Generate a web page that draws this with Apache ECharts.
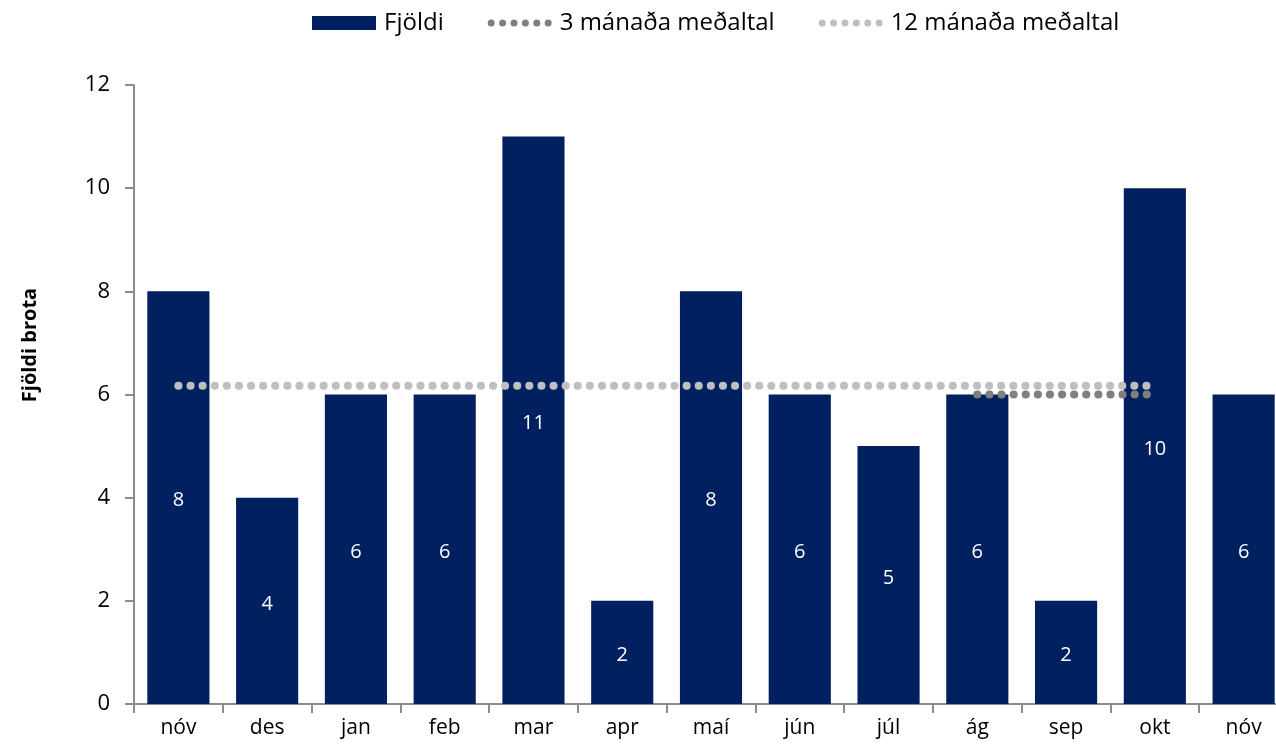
<!DOCTYPE html>
<html>
<head>
<meta charset="utf-8">
<title>Fjöldi brota</title>
<script src="https://cdn.jsdelivr.net/npm/echarts@6/dist/echarts.min.js"></script>
<style>
  html, body { margin: 0; padding: 0; background: #fff; }
  #chart { width: 1276px; height: 752px; }
</style>
</head>
<body>
<div id="chart"></div>
<script>
// mánuðir
var months = ['nóv', 'des', 'jan', 'feb', 'mar', 'apr', 'maí', 'jún', 'júl', 'ág', 'sep', 'okt', 'nóv'];
// fjöldi brota á mánuði
var counts = [8, 4, 6, 6, 11, 2, 8, 6, 5, 6, 2, 10, 6];
// meðaltöl (lárétt lína)
var avg3 = [null, null, null, null, null, null, null, null, null, 6, 6, 6, null];
var avg12 = [6.17, 6.17, 6.17, 6.17, 6.17, 6.17, 6.17, 6.17, 6.17, 6.17, 6.17, 6.17, null];
var yTicks = [0, 2, 4, 6, 8, 10, 12];

var font = '"Open Sans", sans-serif';
var axisGray = '#8c8c8c';

var myChart = echarts.init(document.getElementById('chart'));

var dotLine = function (color) {
  return {
    color: color,
    width: 8,
    type: [0.1, 12],
    cap: 'round'
  };
};

// punktalína fyrir skýringar
var dotsIcon = (function () {
  var p = '';
  for (var i = 0; i < 6; i++) {
    var x = i * 11.4;
    p += 'M' + x + ',3.5 a3.5,3.5 0 1,0 7,0 a3.5,3.5 0 1,0 -7,0 ';
  }
  return 'path://' + p;
})();

var option = {
  animation: false,
  textStyle: { fontFamily: font },
  grid: {
    left: 134,
    top: 85,
    width: 1154,
    bottom: 48,
    outerBoundsMode: 'none',
    containLabel: false
  },
  legend: {
    left: 307,
    top: 6,
    itemWidth: 64,
    itemHeight: 14,
    itemGap: 44,
    textStyle: { fontFamily: font, fontSize: 24, color: '#000', padding: [0, 0, 0, 3] },
    data: [
      { name: 'Fjöldi', icon: 'rect' },
      { name: '3 mánaða meðaltal', icon: dotsIcon },
      { name: '12 mánaða meðaltal', icon: dotsIcon }
    ]
  },
  graphic: [{
    type: 'text',
    x: 30,
    y: 345,
    rotation: Math.PI / 2,
    style: {
      text: 'Fjöldi brota',
      font: 'bold 20px "Open Sans", sans-serif',
      fill: '#000',
      align: 'center',
      verticalAlign: 'middle'
    }
  }],
  xAxis: {
    type: 'category',
    data: months,
    boundaryGap: true,
    axisLine: { lineStyle: { color: axisGray, width: 2 } },
    axisTick: { show: true, length: 9, lineStyle: { color: axisGray, width: 2 } },
    axisLabel: { fontFamily: font, fontSize: 21, color: '#000', margin: 14 }
  },
  yAxis: {
    type: 'value',
    min: yTicks[0],
    max: yTicks[yTicks.length - 1],
    interval: 2,
    axisLine: { show: true, lineStyle: { color: axisGray, width: 2 } },
    axisTick: { show: true, length: 9, inside: false, lineStyle: { color: axisGray, width: 2 } },
    splitLine: { show: false },
    axisLabel: { fontFamily: font, fontSize: 22, color: '#000', margin: 24 }
  },
  series: [
    {
      name: 'Fjöldi',
      type: 'bar',
      data: counts,
      barCategoryGap: '30%',
      itemStyle: { color: '#002060' },
      label: {
        show: true,
        position: 'inside',
        offset: [0, 3],
        color: '#fff',
        fontFamily: font,
        fontSize: 20
      }
    },
    {
      name: '3 mánaða meðaltal',
      type: 'line',
      data: avg3,
      symbol: 'none',
      itemStyle: { color: '#7f7f7f' },
      lineStyle: dotLine('#7f7f7f'),
      z: 4
    },
    {
      name: '12 mánaða meðaltal',
      type: 'line',
      data: avg12,
      symbol: 'none',
      itemStyle: { color: '#bfbfbf' },
      lineStyle: dotLine('#bfbfbf'),
      z: 5
    }
  ]
};

myChart.setOption(option);
window.onresize = myChart.resize;
</script>
</body>
</html>
